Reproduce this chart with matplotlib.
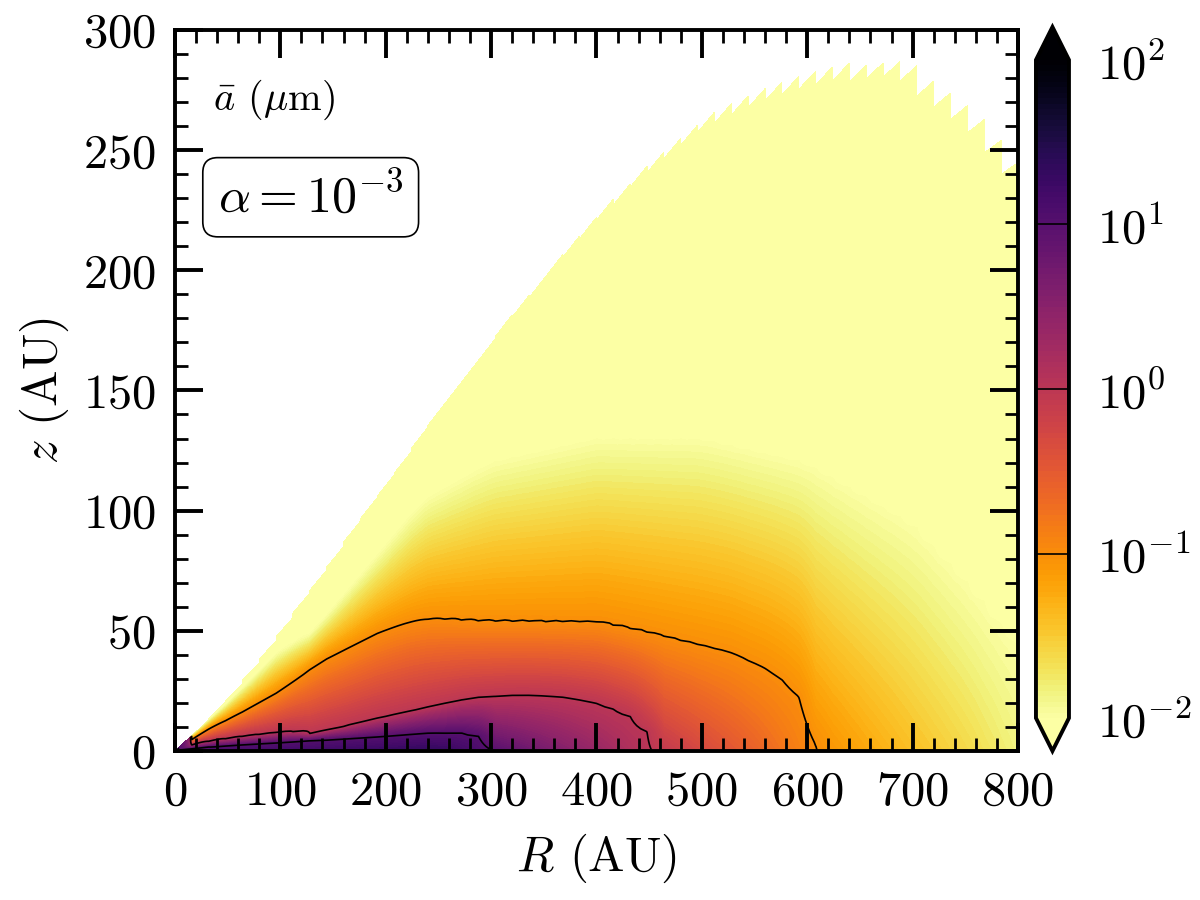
import numpy as np
import matplotlib
matplotlib.use("Agg")
import matplotlib.pyplot as plt
from matplotlib.colors import LogNorm
from matplotlib.ticker import MultipleLocator

plt.rcParams['font.family'] = 'serif'
plt.rcParams['font.serif'] = ['cmr10']
plt.rcParams['mathtext.fontset'] = 'cm'
plt.rcParams['axes.formatter.use_mathtext'] = True

# ---- data (R, z in AU; sizes as log10(micron)) ----
# upper disk surface (tooth peaks)
R_surf = [0, 20, 50, 87, 106, 133, 149, 163, 180, 218, 248, 273, 327, 403, 450, 512, 574, 621, 652, 700, 745, 768, 790, 800]
z_surf = [0, 8, 22, 42, 54, 70, 80, 89, 99, 122, 141, 154, 186, 224, 245, 266, 279, 285, 287, 287, 273, 263, 252, 245]

# midplane grain size (log10 micron)
R_mid = [0, 50, 100, 200, 250, 302, 350, 400, 452, 500, 550, 609, 650, 700, 750, 800]
loga_mid = [1.1, 1.15, 1.2, 1.3, 1.35, 1.0, 0.68, 0.35, 0.0, -0.3, -0.6, -1.0, -1.2, -1.42, -1.62, -1.85]

# 10 micron contour height
R_c10 = [0, 27, 100, 197, 239, 280, 292, 302]
z_c10 = [0, 1.5, 3.5, 6.0, 7.5, 7.5, 5.4, 0]

# 1 micron contour height
R_c1 = [0, 21, 59, 109, 125, 159, 197, 280, 327, 365, 397, 425, 438, 448, 452]
z_c1 = [0, 3.3, 5.8, 8.3, 7.0, 10, 14, 22, 23.3, 22.6, 20.4, 16, 13, 8, 0]

# 0.1 micron contour height
R_c01 = [0, 27, 59, 100, 138, 197, 230, 247, 289, 365, 403, 451, 527, 567, 590, 605, 609]
z_c01 = [0, 8, 15, 25, 37, 50, 54.5, 55, 54, 53.7, 53.5, 49, 41, 33, 24.5, 10, 0]

# 0.01 micron level height
R_c001 = [0, 50, 100, 130, 180, 235, 300, 400, 500, 600, 700, 750, 800]
z_c001 = [0, 20, 42, 49, 75, 104, 120, 130, 130, 120, 95, 72, 45]

cbar_ticks = [1e-2, 1e-1, 1e0, 1e1, 1e2]
line_levels = [0.1, 1.0, 10.0]

# ---- build the field on a (R, z/R) grid ----
R_cols = np.arange(0, 801, 16, dtype=float)
t_rows = np.linspace(0, 0.6, 201)
RR, TT = np.meshgrid(R_cols, t_rows)
ZZ = RR * TT

levels_def = [(R_c10, z_c10, 1.0), (R_c1, z_c1, 0.0), (R_c01, z_c01, -1.0), (R_c001, z_c001, -2.0)]
LOGA = np.zeros_like(ZZ)
for i, R in enumerate(R_cols):
    m = np.interp(R, R_mid, loga_mid)
    zs = [0.0]
    vs = [m]
    for Rl, zl, lv in levels_def:
        if lv < m and R <= Rl[-1]:
            h = float(np.interp(R, Rl, zl))
            if h > zs[-1]:
                zs.append(h)
                vs.append(lv)
    zs.append(zs[-1] + 20.0)
    vs.append(-2.5)
    LOGA[:, i] = np.interp(ZZ[:, i], zs, vs)

A = 10.0 ** LOGA
surf_at = np.interp(RR, R_surf, z_surf)
A = np.ma.masked_where(ZZ > surf_at + 1e-9, A)

# ---- figure ----
fig = plt.figure(figsize=(12, 9), dpi=100)
ax = fig.add_axes([0.1458, 0.1656, 0.7025, 0.8011])
cax = fig.add_axes([0.8633, 0.1656, 0.0275, 0.8044])

norm = LogNorm(vmin=1e-2, vmax=1e2)
cf = ax.contourf(RR, ZZ, A, levels=np.logspace(-2, 2, 121), norm=norm,
                 cmap='inferno_r', extend='both', corner_mask=False)
cs = ax.contour(RR, ZZ, A, levels=line_levels, colors='k', linewidths=1.2,
                corner_mask=False)

ax.set_xlim(0, 800)
ax.set_ylim(0, 300)
ax.xaxis.set_major_locator(MultipleLocator(100))
ax.xaxis.set_minor_locator(MultipleLocator(20))
ax.yaxis.set_major_locator(MultipleLocator(50))
ax.yaxis.set_minor_locator(MultipleLocator(10))
ax.tick_params(which='both', direction='in', top=True, right=True)
ax.tick_params(which='major', length=20, width=2.8, labelsize=35, pad=14)
ax.tick_params(which='minor', length=9.5, width=2.0)
for s in ax.spines.values():
    s.set_linewidth(2.8)

ax.set_xlabel(r'$R$ (AU)', fontsize=35, labelpad=12)
ax.set_ylabel(r'$z$ (AU)', fontsize=35, labelpad=8)

ax.text(0.045, 0.903, r'$\bar{a}$ ($\mu$m)', transform=ax.transAxes,
        fontsize=29, ha='left', va='center')
ax.text(0.161, 0.768, r'$\alpha=10^{-3}$', transform=ax.transAxes,
        fontsize=36, ha='center', va='center',
        bbox=dict(boxstyle='round,pad=0.3', fc='white', ec='black', lw=1.2))

cb = fig.colorbar(cf, cax=cax, ticks=cbar_ticks)
cb.add_lines(cs)
cb.ax.minorticks_off()
cb.ax.tick_params(length=0, labelsize=35, pad=20)
cb.outline.set_linewidth(2.8)

fig.savefig('out.png', dpi=100)
